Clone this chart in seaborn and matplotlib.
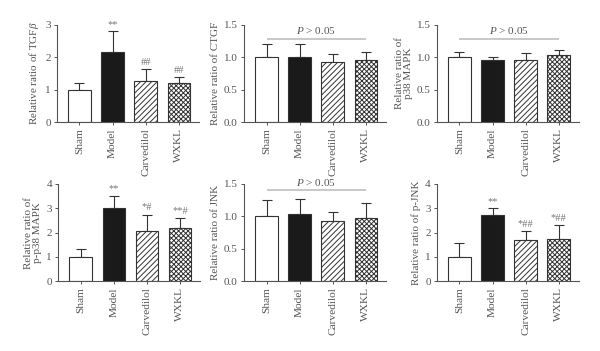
import numpy as np
import pandas as pd
import matplotlib
matplotlib.use("Agg")
import matplotlib.pyplot as plt
import seaborn as sns

groups = ["Sham", "Model", "Carvedilol", "WXKL"]

tgfb_mean = [1.00, 2.17, 1.28, 1.22]
tgfb_err = [0.22, 0.63, 0.35, 0.17]
ctgf_mean = [1.00, 1.00, 0.93, 0.955]
ctgf_err = [0.20, 0.20, 0.12, 0.13]
p38_mean = [1.00, 0.965, 0.955, 1.03]
p38_err = [0.08, 0.04, 0.11, 0.08]
pp38_mean = [1.00, 3.00, 2.06, 2.19]
pp38_err = [0.33, 0.52, 0.68, 0.39]
jnk_mean = [1.00, 1.03, 0.925, 0.98]
jnk_err = [0.25, 0.24, 0.145, 0.23]
pjnk_mean = [1.00, 2.74, 1.71, 1.75]
pjnk_err = [0.56, 0.26, 0.35, 0.55]

tgfb_marks = ["", "**", "##", "##"]
pp38_marks = ["", "**", "*#", "**#"]
pjnk_marks = ["", "**", "*##", "*##"]

sns.set_theme(style="ticks")
plt.rcParams["font.family"] = ["Liberation Serif", "DejaVu Serif"]
plt.rcParams["mathtext.fontset"] = "custom"
plt.rcParams["mathtext.it"] = "Liberation Serif:italic"
plt.rcParams["mathtext.rm"] = "Liberation Serif"

txt = "#555555"
edge = "#333333"
fills = ["white", "#1a1a1a", "white", "white"]
hatches = ["", "", "//////", "xxxxxxx"]
plt.rcParams["hatch.linewidth"] = 0.7
plt.rcParams["hatch.color"] = "#333333"

fig = plt.figure(figsize=(6, 3.51), dpi=100)

panels = [
    # left, bottom, mean, err, ylabel, ymax, step, marks, pline
    (0.095, 0.6524, tgfb_mean, tgfb_err, r"Relative ratio of TGF$\it{\beta}$", 3, 1, tgfb_marks, None),
    (0.4067, 0.6524, ctgf_mean, ctgf_err, "Relative ratio of CTGF", 1.5, 0.5, None, 1.29),
    (0.7283, 0.6524, p38_mean, p38_err, "Relative ratio of\np38 MAPK", 1.5, 0.5, None, 1.29),
    (0.097, 0.1994, pp38_mean, pp38_err, "Relative ratio of\np-p38 MAPK", 4, 1, pp38_marks, None),
    (0.4067, 0.1994, jnk_mean, jnk_err, "Relative ratio of JNK", 1.5, 0.5, None, 1.40),
    (0.7283, 0.1994, pjnk_mean, pjnk_err, "Relative ratio of p-JNK", 4, 1, pjnk_marks, None),
]

for left, bottom, mean, err, ylab, ymax, step, marks, pline in panels:
    ax = fig.add_axes([left, bottom, 0.236, 0.2764])
    df = pd.DataFrame({"group": groups, "value": mean})
    sns.barplot(data=df, x="group", y="value", ax=ax, width=0.68,
                errorbar=None, edgecolor=edge, linewidth=0.8)
    for i, patch in enumerate(ax.patches):
        patch.set_facecolor(fills[i])
        patch.set_hatch(hatches[i])
        patch.set_zorder(2)
    ax.errorbar(range(4), mean, yerr=[np.zeros(4), err], fmt="none",
                ecolor=edge, elinewidth=0.8, capsize=3.5, capthick=0.8, zorder=1)
    ax.set_xlim(-0.68, 3.6)
    ax.set_ylim(0, ymax)
    ticks = np.arange(0, ymax + step / 2, step)
    ax.set_yticks(ticks)
    if step < 1:
        ax.set_yticklabels([f"{v:.1f}" for v in ticks])
    else:
        ax.set_yticklabels([f"{int(v)}" for v in ticks])
    ax.set_xlabel("")
    ax.set_ylabel(ylab, fontsize=8, color=txt, labelpad=3, linespacing=1.0)
    ax.tick_params(axis="x", labelrotation=90, labelsize=8.2, colors=txt,
                   length=2.5, width=0.7, pad=2)
    ax.tick_params(axis="y", labelsize=8, colors=txt, length=2.5, width=0.7, pad=2)
    for s in ["top", "right"]:
        ax.spines[s].set_visible(False)
    for s in ["left", "bottom"]:
        ax.spines[s].set_color("#555555")
        ax.spines[s].set_linewidth(0.8)
    if marks is not None:
        for i, m in enumerate(marks):
            if m:
                ax.annotate(m, (i, mean[i] + err[i]), xytext=(0, 1.5),
                            textcoords="offset points", ha="center", va="bottom",
                            fontsize=7.5, color="#777777")
    if pline is not None:
        ax.plot([0, 3], [pline, pline], color="#c8c8c8", lw=1.4,
                solid_capstyle="butt", clip_on=False)
        ax.text(1.5, pline + ymax * 0.025, r"$P$ > 0.05", ha="center", va="bottom",
                fontsize=8, color=txt)

fig.savefig("out.png", dpi=100)
